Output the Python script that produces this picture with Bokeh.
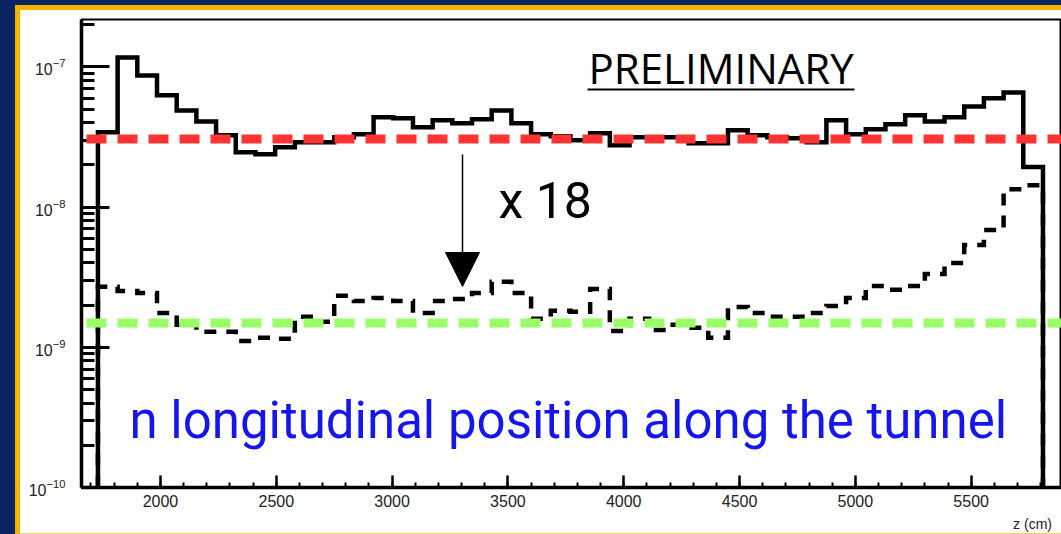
import numpy as np
from bokeh.plotting import figure
from bokeh.models import (Range1d, SingleIntervalTicker, LogTicker, FixedTicker, LinearAxis,
                          Label, Arrow, NormalHead, BoxAnnotation, Span)
from bokeh.embed import file_html
from bokeh.resources import INLINE

# ---------------- data ----------------
bin_edges = [1730, 1815, 1900, 1985, 2070, 2155, 2240, 2325, 2410, 2495, 2580, 2665,
             2750, 2835, 2920, 3005, 3090, 3175, 3260, 3345, 3430, 3515, 3600, 3685,
             3770, 3855, 3940, 4025, 4110, 4195, 4280, 4365, 4450, 4535, 4620, 4705,
             4790, 4875, 4960, 5045, 5130, 5215, 5300, 5385, 5470, 5555, 5640, 5725, 5810]

full_rate = [3.42e-8, 1.17e-7, 8.7e-8, 6.27e-8, 4.90e-8, 4.09e-8, 3.25e-8, 2.46e-8,
             2.38e-8, 2.67e-8, 2.90e-8, 2.90e-8, 3.15e-8, 3.31e-8, 4.37e-8, 4.30e-8,
             3.71e-8, 4.16e-8, 3.96e-8, 4.23e-8, 4.90e-8, 3.96e-8, 3.31e-8, 3.20e-8,
             3.00e-8, 3.36e-8, 2.76e-8, 3.15e-8, 3.15e-8, 3.15e-8, 2.85e-8, 2.85e-8,
             3.53e-8, 3.25e-8, 3.15e-8, 3.10e-8, 2.90e-8, 4.16e-8, 3.31e-8, 3.59e-8,
             3.90e-8, 4.52e-8, 4.09e-8, 4.37e-8, 5.23e-8, 5.97e-8, 6.58e-8, 1.93e-8]

reduced_rate = [2.70e-9, 2.52e-9, 2.44e-9, 1.76e-9, 1.45e-9, 1.29e-9, 1.29e-9, 1.11e-9,
                1.17e-9, 1.15e-9, 1.65e-9, 1.52e-9, 2.33e-9, 2.14e-9, 2.25e-9, 2.14e-9,
                1.76e-9, 2.14e-9, 2.21e-9, 2.44e-9, 2.93e-9, 2.44e-9, 1.60e-9, 1.82e-9,
                1.79e-9, 2.61e-9, 1.31e-9, 1.60e-9, 1.33e-9, 1.45e-9, 1.38e-9, 1.17e-9,
                1.94e-9, 1.76e-9, 1.65e-9, 1.65e-9, 1.76e-9, 1.97e-9, 2.25e-9, 2.74e-9,
                2.57e-9, 2.74e-9, 3.34e-9, 3.99e-9, 5.36e-9, 6.86e-9, 1.34e-8, 1.43e-8]

red_level = 3.06e-8
green_level = 1.49e-9

x_min, x_max = 1659, 5890
y_min, y_max = 1e-10, 2.18e-7
x_title = "z (cm)"
x_title_pos = 5765


def outline(edges, vals, floor):
    xs = [edges[0]]
    ys = [floor]
    for i, v in enumerate(vals):
        xs += [edges[i], edges[i + 1]]
        ys += [v, v]
    xs.append(edges[-1])
    ys.append(floor)
    return xs, ys


p = figure(width=1061, height=534, output_backend="svg", toolbar_location=None,
           x_range=Range1d(x_min, x_max), y_range=Range1d(y_min, y_max),
           y_axis_type="log",
           min_border_left=81, min_border_right=0, min_border_top=19, min_border_bottom=46)

p.border_fill_color = None
p.background_fill_color = "white"
p.outline_line_color = "black"
p.outline_line_width = 2
p.grid.visible = False
p.styles = {
    "background-color": "white",
    "box-shadow": "inset 15px 5px 0 0 #0b2263, inset 20px 10px 0 0 #f4b400, inset 0 -1px 0 0 #f4d060",
}

# x axis
xa = p.xaxis[0]
xa.ticker = SingleIntervalTicker(interval=500, num_minor_ticks=5)
xa.axis_line_width = 3.5
xa.major_tick_in = 12
xa.major_tick_out = 0
xa.minor_tick_in = 5
xa.minor_tick_out = 0
xa.major_tick_line_width = 2.5
xa.minor_tick_line_width = 2
xa.major_label_text_font = "Liberation Sans"
xa.major_label_text_font_size = "16px"
xa.major_label_text_color = "#222222"
xa.major_label_standoff = 7

# axis title, placed at the right end as in the original
xt = LinearAxis(ticker=FixedTicker(ticks=[x_title_pos]),
                major_label_overrides={x_title_pos: x_title},
                axis_line_color=None, major_tick_line_color=None, minor_tick_line_color=None,
                major_label_standoff=0, major_label_text_font="Liberation Sans",
                major_label_text_font_size="14px", major_label_text_color="#222222")
p.add_layout(xt, "below")

# y axis
ya = p.yaxis[0]
ya.ticker = LogTicker(num_minor_ticks=10)
ya.axis_line_width = 3.5
ya.major_tick_in = 28
ya.major_tick_out = 0
ya.minor_tick_in = 13
ya.minor_tick_out = 0
ya.major_tick_line_width = 3
ya.minor_tick_line_width = 3
ya.major_label_text_font = "Liberation Sans"
ya.major_label_text_font_size = "16px"
ya.major_label_text_color = "#222222"
ya.major_label_standoff = 16

# histograms
dx, dy = outline(bin_edges, reduced_rate, y_min)
p.line(dx, dy, line_color="black", line_width=4.5, line_dash="12 10", line_join="miter")
sx, sy = outline(bin_edges, full_rate, y_min)
p.line(sx, sy, line_color="black", line_width=4.5, line_join="miter")

# reference levels
p.add_layout(Span(location=red_level, dimension="width", line_color="#ff3333",
                  line_width=9, line_dash="20 11", line_dash_offset=26))
p.add_layout(Span(location=green_level, dimension="width", line_color="#99ff66",
                  line_width=9, line_dash="20 11", line_dash_offset=26))

# annotations (screen units relative to the frame: x from left, y from bottom)
p.add_layout(Label(x=507, y=420, x_units="screen", y_units="screen", text="PRELIMINARY",
                   text_font="Open Sans", text_font_size="42px", text_color="black",
                   text_baseline="alphabetic"))
p.add_layout(BoxAnnotation(left=506, right=773, bottom=397, top=399,
                           left_units="screen", right_units="screen",
                           bottom_units="screen", top_units="screen",
                           fill_color="black", fill_alpha=1, line_alpha=0))
p.add_layout(Arrow(x_start=381, y_start=333, x_end=381, y_end=201,
                   start_units="screen", end_units="screen", line_width=1.5,
                   line_color="black",
                   end=NormalHead(size=34, fill_color="black", line_color="black")))
p.add_layout(Label(x=417, y=287, x_units="screen", y_units="screen", text="x 18",
                   text_font="Roboto", text_font_size="50px",
                   text_color="black", text_baseline="alphabetic"))
p.add_layout(Label(x=48, y=67, x_units="screen", y_units="screen",
                   text="n longitudinal position along the tunnel",
                   text_font="Roboto", text_font_size="51px",
                   text_color="#1515ee", text_baseline="alphabetic"))

open("out.html", "w").write(file_html(p, INLINE))
